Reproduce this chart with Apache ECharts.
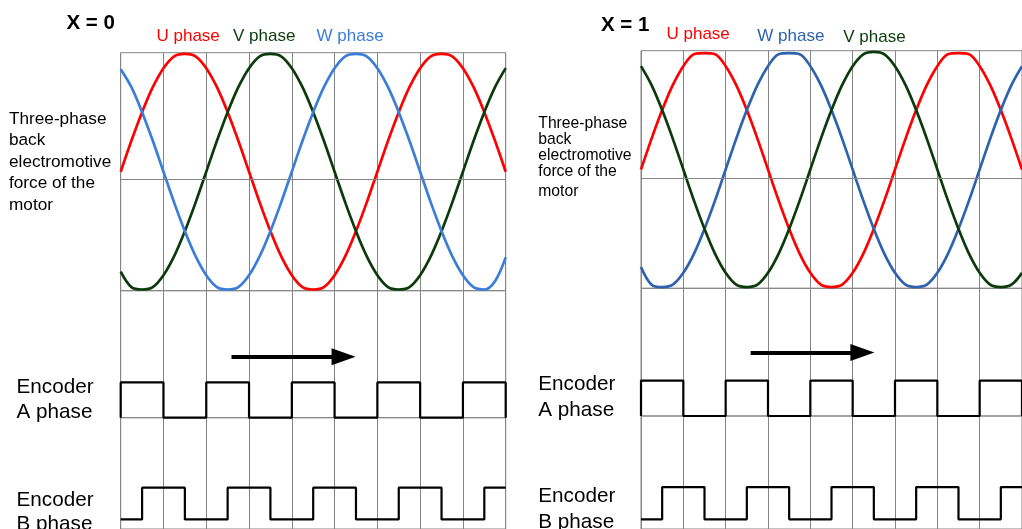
<!DOCTYPE html>
<html><head><meta charset="utf-8">
<script src="https://cdn.jsdelivr.net/npm/echarts@6/dist/echarts.min.js"></script>
<style>html,body{margin:0;padding:0;background:#fff}#c{width:1022px;height:529px}</style>
</head><body><div id="c"></div>
<script>
// ---- data ----
// x positions (in encoder-column units) where the back-EMF was read
const emfX = [0,0.25,0.5,0.75,1,1.25,1.5,1.75,2,2.25,2.5,2.75,3,3.25,3.5,3.75,4,4.25,4.5,4.75,5,5.25,5.5,5.75,6,6.25,6.5,6.75,7,7.25,7.5,7.75,8,8.25,8.5,8.75,9];
// X = 0 panel
const uLeft = [0,0.26,0.5,0.71,0.87,0.97,0.99,0.97,0.87,0.71,0.5,0.26,0,-0.26,-0.5,-0.71,-0.87,-0.97,-0.99,-0.97,-0.87,-0.71,-0.5,-0.26,0,0.26,0.5,0.71,0.87,0.97,0.99,0.97,0.87,0.71,0.5,0.26,0];
const vLeft = [-0.84,-0.97,-0.99,-0.97,-0.87,-0.71,-0.5,-0.26,0,0.26,0.5,0.71,0.87,0.97,0.99,0.97,0.87,0.71,0.5,0.26,0,-0.26,-0.5,-0.71,-0.87,-0.97,-0.99,-0.97,-0.87,-0.71,-0.5,-0.26,0,0.26,0.5,0.71,0.87];
const wLeft = [0.86,0.71,0.5,0.26,0,-0.26,-0.5,-0.71,-0.87,-0.97,-0.99,-0.97,-0.87,-0.71,-0.5,-0.26,0,0.26,0.5,0.71,0.87,0.97,0.99,0.97,0.87,0.71,0.5,0.26,0,-0.26,-0.5,-0.71,-0.87,-0.97,-0.99,-0.92,-0.72];
// X = 1 panel
const uRight = [0,0.26,0.5,0.71,0.87,0.97,0.98,0.97,0.87,0.71,0.5,0.26,0,-0.26,-0.5,-0.71,-0.87,-0.97,-0.99,-0.97,-0.87,-0.71,-0.5,-0.26,0,0.26,0.5,0.71,0.87,0.97,0.98,0.97,0.87,0.71,0.5,0.26,0];
const wRight = [-0.82,-0.97,-0.99,-0.97,-0.87,-0.71,-0.5,-0.26,0,0.26,0.5,0.71,0.87,0.97,0.98,0.97,0.87,0.71,0.5,0.26,0,-0.26,-0.5,-0.71,-0.87,-0.97,-0.99,-0.97,-0.87,-0.71,-0.5,-0.26,0,0.26,0.5,0.71,0.87];
const vRight = [0.87,0.71,0.5,0.26,0,-0.26,-0.5,-0.71,-0.87,-0.97,-0.99,-0.97,-0.87,-0.71,-0.5,-0.26,0,0.26,0.5,0.71,0.87,0.97,0.99,0.97,0.87,0.71,0.5,0.26,0,-0.26,-0.5,-0.71,-0.87,-0.97,-0.99,-0.97,-0.87];
// encoder A level for each column, encoder B level for each half column
const encA = [1,0,1,0,1,0,1,0,1];
const encB = [0,1,1,0,0,1,1,0,0,1,1,0,0,1,1,0,0,1];
// interior horizontal rule of the EMF area (EMF units)
const emfRuleLeft = -0.06, emfRuleRight = -0.07;
// rotation arrow [from column, to column, level]
const arrowLeft = [2.59, 5.21, 1.73];
const arrowRight = [2.59, 5.23, 1.79];
// texts
const panelTitles = ['X = 0', 'X = 1'];
const phaseNamesLeft = ['U phase', 'V phase', 'W phase'];
const phaseNamesRight = ['U phase', 'W phase', 'V phase'];

// ---- build ----
const RED = '#ff0000', GREEN = '#0b3a0b', BLUE_L = '#3b7dd8', BLUE_R = '#2f62ad', GRID = '#858585';
const FONT = "'Liberation Sans', Arial, sans-serif";

function pairs(xs, ys) { return xs.map((x, i) => [x, ys[i]]); }
function stepData(levels, w, closeEnd) {
  const pts = [[0, 0]];
  levels.forEach((v, i) => { pts.push([i * w, v], [(i + 1) * w, v]); });
  if (closeEnd) pts.push([levels.length * w, 0]);
  return pts;
}

const grids = [], xAxes = [], yAxes = [], series = [];
function addGrid(left, top, height, ymin, ymax) {
  grids.push({ left: left, top: top, width: 385, height: height, show: true,
    borderColor: GRID, borderWidth: 1, backgroundColor: 'transparent', containLabel: false });
  const idx = grids.length - 1;
  xAxes.push({ type: 'value', gridIndex: idx, min: 0, max: 9, interval: 1,
    axisLine: { show: false }, axisTick: { show: false }, axisLabel: { show: false },
    splitLine: { show: true, lineStyle: { color: GRID, width: 1 } } });
  yAxes.push({ type: 'value', gridIndex: idx, min: ymin, max: ymax,
    axisLine: { show: false }, axisTick: { show: false }, axisLabel: { show: false },
    splitLine: { show: false } });
  return idx;
}

function panel(left, tops, curves, rule, arrow) {
  const gE = addGrid(left, tops[0], tops[1] - tops[0], -1, 1);
  const gA = addGrid(left, tops[1], tops[2] - tops[1], 0, 3.6);
  const gB = addGrid(left, tops[2], 121, -0.3, 3.2);
  series.push({ type: 'line', xAxisIndex: gE, yAxisIndex: gE, data: [], z: 1, silent: true,
    markLine: { silent: true, symbol: ['none', 'none'], label: { show: false },
      lineStyle: { color: GRID, width: 1, type: 'solid' }, data: [{ yAxis: rule }] } });
  curves.forEach(c => series.push({ type: 'line', name: c.name, xAxisIndex: gE, yAxisIndex: gE,
    data: pairs(emfX, c.vals), smooth: 0.35, showSymbol: false, z: 3, silent: true,
    lineStyle: { width: 2.7, color: c.color } }));
  series.push({ type: 'line', xAxisIndex: gA, yAxisIndex: gA, data: stepData(encA, 1, true),
    showSymbol: false, clip: false, z: 3, silent: true, lineStyle: { width: 2.2, color: '#000' },
    markLine: { silent: true, symbol: ['none', 'triangle'], symbolSize: [17, 24], label: { show: false },
      lineStyle: { color: '#000', width: 4, type: 'solid' },
      data: [[{ coord: [arrow[0], arrow[2]] }, { coord: [arrow[1], arrow[2]] }]] } });
  series.push({ type: 'line', xAxisIndex: gB, yAxisIndex: gB, data: stepData(encB, 0.5, false),
    showSymbol: false, clip: false, z: 3, silent: true, lineStyle: { width: 2.2, color: '#000' } });
}

panel(120.7, [52.7, 290.7, 417.7], [
  { name: phaseNamesLeft[0], vals: uLeft, color: RED },
  { name: phaseNamesLeft[1], vals: vLeft, color: GREEN },
  { name: phaseNamesLeft[2], vals: wLeft, color: BLUE_L }], emfRuleLeft, arrowLeft);
panel(641, [50.7, 288.3, 416], [
  { name: phaseNamesRight[0], vals: uRight, color: RED },
  { name: phaseNamesRight[1], vals: wRight, color: BLUE_R },
  { name: phaseNamesRight[2], vals: vRight, color: GREEN }], emfRuleRight, arrowRight);

function txt(text, x, y, size, color, weight, va, lh) {
  return { type: 'text', x: x, y: y, silent: true, style: { text: text, fill: color || '#000',
    fontSize: size, fontWeight: weight || 'normal', fontFamily: FONT,
    align: 'left', verticalAlign: va || 'middle', lineHeight: lh } };
}
const graphics = [
  txt(panelTitles[0], 66.5, 23.5, 20.5, '#000', 'bold'),
  txt(phaseNamesLeft[0], 156.5, 36, 17, RED),
  txt(phaseNamesLeft[1], 233, 36, 17, GREEN),
  txt(phaseNamesLeft[2], 316.5, 36, 17, BLUE_L),
  txt('Three-phase\nback\nelectromotive\nforce of the\nmotor', 9, 108.5, 17.2, '#000', 'normal', 'top', 21.5),
  txt('Encoder\nA phase', 16.5, 375.4, 20.7, '#000', 'normal', 'top', 24.6),
  txt('Encoder\nB phase', 16.5, 487.7, 20.7, '#000', 'normal', 'top', 24.6),
  txt(panelTitles[1], 601, 25, 20.5, '#000', 'bold'),
  txt(phaseNamesRight[0], 666.5, 34.3, 17, RED),
  txt(phaseNamesRight[1], 757.3, 36.7, 17, BLUE_R),
  txt(phaseNamesRight[2], 843.3, 37, 17, GREEN),
  txt('Three-phase', 538.3, 124, 15.7),
  txt('back', 538.3, 140, 15.7),
  txt('electromotive', 538.3, 156, 15.7),
  txt('force of the', 538.3, 172, 15.7),
  txt('motor', 538.3, 191.5, 15.7),
  txt('Encoder\nA phase', 538.3, 371, 20.7, '#000', 'normal', 'top', 26),
  txt('Encoder\nB phase', 538.3, 483.5, 20.7, '#000', 'normal', 'top', 25.7)
];

const chart = echarts.init(document.getElementById('c'), null, { renderer: 'canvas' });
chart.setOption({
  animation: false, backgroundColor: '#fff',
  grid: grids, xAxis: xAxes, yAxis: yAxes, series: series, graphic: graphics,
  tooltip: { show: false }, legend: { show: false }
});
</script></body></html>
